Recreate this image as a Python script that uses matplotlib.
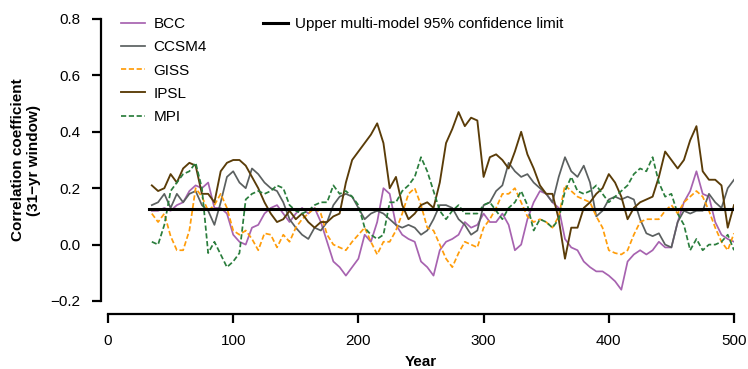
import numpy as np
import matplotlib
matplotlib.use("Agg")
import matplotlib.pyplot as plt

plt.rcParams['font.family'] = ['Liberation Sans', 'DejaVu Sans']

# centre year of each 31-yr window
years = np.arange(35, 501, 5)

bcc = [0.12, 0.12, 0.13, 0.12, 0.14, 0.15, 0.19, 0.21, 0.20, 0.22, 0.13, 0.13, 0.11, 0.035, 0.01,
       0.0, 0.06, 0.07, 0.11, 0.13, 0.14, 0.11, 0.08, 0.11, 0.13, 0.11, 0.13, 0.08, 0.01, -0.06,
       -0.08, -0.11, -0.08, -0.05, 0.035, 0.01, 0.08, 0.20, 0.18, 0.07, 0.035, 0.02, 0.01, -0.06, -0.08,
       -0.11, -0.02, 0.01, 0.02, 0.035, 0.08, 0.06, 0.07, 0.11, 0.08, 0.08, 0.11, 0.07, -0.02, 0.0,
       0.09, 0.15, 0.19, 0.18, 0.15, 0.13, 0.02, -0.01, -0.02, -0.06, -0.08, -0.095, -0.095, -0.11, -0.13,
       -0.16, -0.06, -0.035, -0.02, -0.035, -0.02, 0.01, -0.01, -0.01, 0.08, 0.15, 0.19, 0.26, 0.18, 0.17,
       0.08, 0.035, 0.02, 0.01]

ccsm4 = [0.14, 0.15, 0.18, 0.13, 0.18, 0.15, 0.18, 0.19, 0.14, 0.12, 0.07, 0.15, 0.24, 0.26, 0.22,
         0.20, 0.27, 0.25, 0.22, 0.20, 0.19, 0.15, 0.09, 0.06, 0.035, 0.02, 0.06, 0.05, 0.08, 0.14,
         0.17, 0.18, 0.17, 0.13, 0.09, 0.11, 0.12, 0.11, 0.09, 0.07, 0.06, 0.07, 0.06, 0.035, 0.05,
         0.09, 0.14, 0.14, 0.13, 0.09, 0.07, 0.035, 0.05, 0.14, 0.15, 0.19, 0.21, 0.29, 0.26, 0.24,
         0.25, 0.22, 0.20, 0.18, 0.15, 0.24, 0.31, 0.26, 0.24, 0.28, 0.22, 0.10, 0.12, 0.16, 0.17,
         0.16, 0.17, 0.16, 0.09, 0.04, 0.03, 0.04, 0.0, -0.01, 0.08, 0.12, 0.11, 0.12, 0.12, 0.18,
         0.15, 0.13, 0.20, 0.23]

giss = [0.11, 0.08, 0.11, 0.03, -0.02, -0.02, 0.05, 0.20, 0.17, 0.12, 0.14, 0.18, 0.13, 0.05, 0.035,
        0.05, 0.02, -0.02, 0.04, 0.035, -0.01, 0.035, 0.01, 0.06, 0.09, 0.11, 0.13, 0.11, 0.035, 0.0,
        -0.01, -0.02, 0.01, 0.035, 0.06, 0.01, -0.035, 0.01, 0.01, 0.05, 0.11, 0.18, 0.20, 0.14, 0.06,
        0.05, 0.0, -0.05, -0.08, -0.03, 0.01, 0.0, -0.01, 0.06, 0.09, 0.13, 0.18, 0.18, 0.20, 0.15,
        0.10, 0.08, 0.09, 0.08, 0.06, 0.10, 0.21, 0.19, 0.17, 0.16, 0.15, 0.10, 0.06, -0.02, -0.03,
        -0.035, -0.02, 0.035, 0.08, 0.09, 0.09, 0.09, 0.12, 0.14, 0.11, 0.15, 0.17, 0.19, 0.17, 0.12,
        0.06, 0.01, -0.02, 0.04]

ipsl = [0.21, 0.19, 0.20, 0.25, 0.22, 0.27, 0.29, 0.28, 0.18, 0.18, 0.15, 0.26, 0.29, 0.30, 0.30,
        0.28, 0.24, 0.20, 0.15, 0.11, 0.08, 0.09, 0.12, 0.09, 0.11, 0.08, 0.06, 0.08, 0.08, 0.10,
        0.11, 0.22, 0.30, 0.33, 0.36, 0.39, 0.43, 0.36, 0.20, 0.24, 0.14, 0.09, 0.11, 0.14, 0.15,
        0.13, 0.22, 0.36, 0.41, 0.47, 0.42, 0.45, 0.44, 0.24, 0.31, 0.32, 0.30, 0.27, 0.33, 0.40,
        0.32, 0.27, 0.21, 0.18, 0.18, 0.09, -0.05, 0.06, 0.06, 0.13, 0.15, 0.18, 0.20, 0.25, 0.22,
        0.17, 0.09, 0.13, 0.15, 0.16, 0.17, 0.24, 0.33, 0.30, 0.27, 0.30, 0.37, 0.42, 0.26, 0.23,
        0.23, 0.21, 0.06, 0.14]

mpi = [0.01, 0.0, 0.07, 0.19, 0.22, 0.25, 0.26, 0.29, 0.20, -0.03, 0.01, -0.035, -0.08, -0.06, -0.03,
       0.16, 0.18, 0.19, 0.18, 0.19, 0.21, 0.20, 0.14, 0.12, 0.11, 0.12, 0.14, 0.15, 0.15, 0.21,
       0.18, 0.19, 0.17, 0.14, 0.06, 0.035, 0.02, 0.035, 0.15, 0.15, 0.19, 0.21, 0.24, 0.31, 0.26,
       0.19, 0.12, 0.09, 0.12, 0.14, 0.11, 0.11, 0.11, 0.14, 0.15, 0.12, 0.09, 0.13, 0.15, 0.19,
       0.14, 0.05, 0.09, 0.08, 0.06, 0.09, 0.19, 0.24, 0.19, 0.18, 0.19, 0.21, 0.18, 0.15, 0.17,
       0.19, 0.21, 0.25, 0.27, 0.26, 0.31, 0.22, 0.17, 0.18, 0.11, 0.07, -0.02, 0.02, -0.02, 0.0,
       0.0, 0.01, 0.035, -0.02]

limit = 0.128
limit_span = [33, 500]

fig = plt.figure(figsize=(7.48, 3.69), dpi=100)
ax = fig.add_axes([108 / 748, 1 - 301 / 369, 626 / 748, 282 / 369])

h_bcc, = ax.plot(years, bcc, color='#a763b0', lw=1.25, label='BCC')
h_ccsm, = ax.plot(years, ccsm4, color='#5b6060', lw=1.25, label='CCSM4')
h_giss, = ax.plot(years, giss, color='#ff9d0a', lw=1.25, ls=(0, (3, 1.5)), label='GISS')
h_ipsl, = ax.plot(years, ipsl, color='#5a3c08', lw=1.35, label='IPSL')
h_mpi, = ax.plot(years, mpi, color='#2a7d3c', lw=1.25, ls=(0, (3, 1.5)), label='MPI')
h_lim, = ax.plot(limit_span, [limit, limit], color='black', lw=2.2,
                 label='Upper multi-model 95% confidence limit')

ax.set_xlim(0, 500)
ax.set_ylim(-0.2, 0.8)
ax.set_xticks([0, 100, 200, 300, 400, 500])
ax.set_yticks([-0.2, 0.0, 0.2, 0.4, 0.6, 0.8])
ax.set_yticklabels(['\u22120.2', '0.0', '0.2', '0.4', '0.6', '0.8'])

for s in ['top', 'right']:
    ax.spines[s].set_visible(False)
ax.spines['left'].set_position(('outward', 5.3))
ax.spines['bottom'].set_position(('outward', 9))
ax.spines['left'].set_bounds(-0.2, 0.8)
ax.spines['bottom'].set_bounds(0, 500)
ax.spines['left'].set_linewidth(1.6)
ax.spines['bottom'].set_linewidth(1.6)
ax.tick_params(direction='out', length=6.5, width=1.6, labelsize=11)
ax.tick_params(axis='x', pad=8)
ax.tick_params(axis='y', pad=8)

ax.set_xlabel('Year', fontsize=11, fontweight='bold', labelpad=5)
ax.set_ylabel('Correlation coefficient\n(31\u2212yr window)', fontsize=11,
              fontweight='bold', labelpad=7, linespacing=1.15)

leg1 = ax.legend(handles=[h_bcc, h_ccsm, h_giss, h_ipsl, h_mpi], loc='upper left',
                 bbox_to_anchor=(0.011, 1.028), frameon=False, fontsize=11,
                 handlelength=1.6, handletextpad=0.52, labelspacing=0.6, borderaxespad=0)
ax.add_artist(leg1)
ax.legend(handles=[h_lim], loc='upper left', bbox_to_anchor=(0.238, 1.028), frameon=False,
          fontsize=11, handlelength=1.6, handletextpad=0.52, borderaxespad=0)

fig.savefig('out.png', dpi=100)
